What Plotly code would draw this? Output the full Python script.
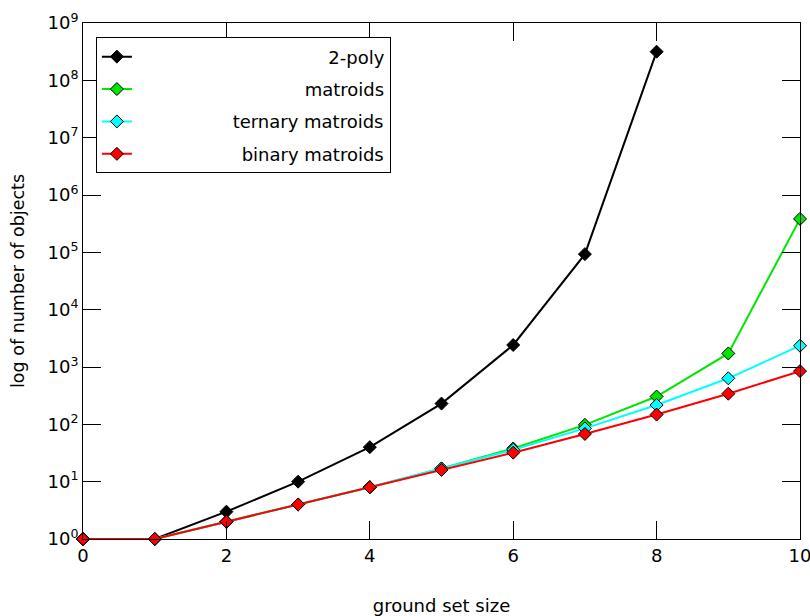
import plotly.graph_objects as go

x_two_poly = [0, 1, 2, 3, 4, 5, 6, 7, 8]
two_poly = [1, 1, 3, 10, 40, 230, 2420, 93000, 3.16e8]

x_all = [0, 1, 2, 3, 4, 5, 6, 7, 8, 9, 10]
matroids = [1, 1, 2, 4, 8, 17, 38, 98, 306, 1724, 383172]
ternary = [1, 1, 2, 4, 8, 17, 36, 85, 217, 635, 2350]
binary = [1, 1, 2, 4, 8, 16, 32, 68, 148, 342, 848]

x_ticks = [0, 2, 4, 6, 8, 10]
y_ticks = [10 ** k for k in range(10)]
y_ticktext = ["10<sup>%d</sup>" % k for k in range(10)]

EM = "\u2003"
EN = "\u2002"
NB = "\u00a0"
PAD = EM * 5 + NB
names = [
    PAD + EM * 5 + NB + "2-poly",
    PAD + EM * 4 + "matroids",
    PAD + "ternary matroids",
    PAD + EN + "binary matroids",
]

series = [
    (x_two_poly, two_poly, "black", "black"),
    (x_all, matroids, "rgb(0,230,0)", "rgb(0,230,0)"),
    (x_all, ternary, "rgb(0,255,255)", "rgb(0,255,255)"),
    (x_all, binary, "rgb(255,0,0)", "rgb(255,0,0)"),
]

fig = go.Figure()
for i, (xs, ys, lc, mc) in enumerate(series):
    fig.add_trace(go.Scatter(
        x=xs, y=ys, name=names[i], mode="lines+markers",
        legendgroup="g%d" % i,
        line=dict(color=lc, width=2),
        marker=dict(symbol="diamond", size=10, color=mc,
                    line=dict(color="black", width=1)),
        cliponaxis=False,
    ))

fig.update_layout(
    width=810, height=616,
    margin=dict(l=83, r=10, t=23, b=77, autoexpand=False),
    paper_bgcolor="white", plot_bgcolor="white",
    font=dict(family="DejaVu Sans", size=18, color="black"),
    showlegend=True,
    legend=dict(
        x=0.018, y=0.972, xanchor="left", yanchor="top",
        bordercolor="black", borderwidth=1, bgcolor="white",
        font=dict(family="DejaVu Sans", size=18, color="black"),
        traceorder="grouped", tracegroupgap=6,
    ),
)
fig.update_xaxes(
    range=[0, 10], tickvals=x_ticks, ticks="inside", ticklen=18,
    tickcolor="black", showline=True, linecolor="black", linewidth=1,
    mirror="ticks", showgrid=False, zeroline=False, automargin=False,
    ticklabeloverflow="allow",
    tickfont=dict(family="DejaVu Sans", size=18, color="black"),
    title=dict(text="ground set size", standoff=35,
               font=dict(family="DejaVu Sans", size=18, color="black")),
)
fig.update_yaxes(
    type="log", range=[0, 9], tickvals=y_ticks, ticktext=y_ticktext,
    ticks="inside", ticklen=18, tickcolor="black", showline=True,
    linecolor="black", linewidth=1, mirror="ticks", showgrid=False,
    zeroline=False, automargin=False, ticklabeloverflow="allow",
    tickfont=dict(family="DejaVu Sans", size=18, color="black"),
    title=dict(text="log of number of objects", standoff=18,
               font=dict(family="DejaVu Sans", size=17.5, color="black")),
)

fig.write_html("out.html", config={"displayModeBar": False},
               post_script="document.body.style.margin='0';")
